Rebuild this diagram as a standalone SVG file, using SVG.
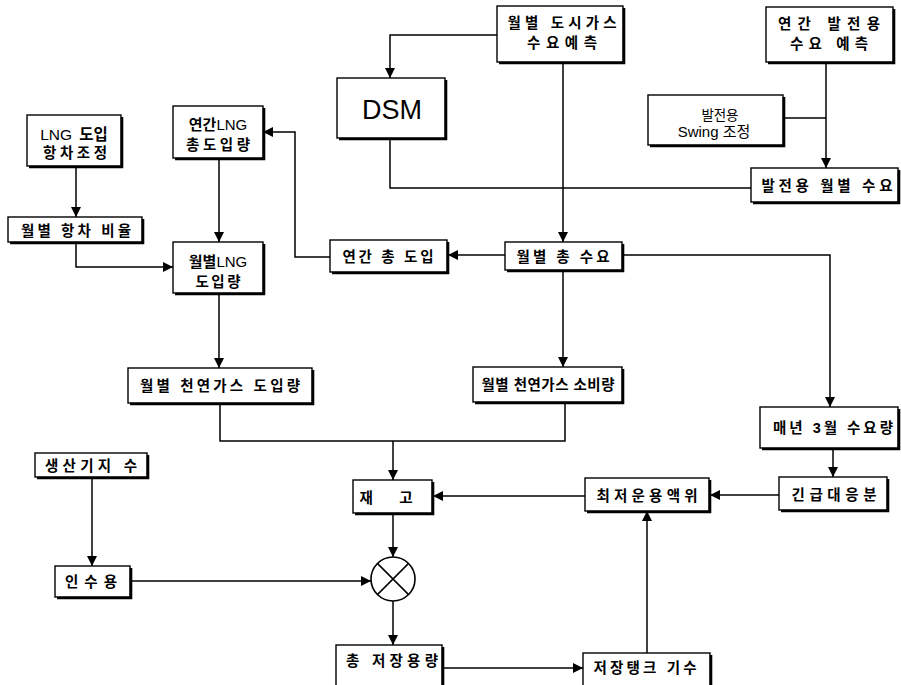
<svg xmlns="http://www.w3.org/2000/svg" width="901" height="685" viewBox="0 0 901 685">
<style>
.box{fill:#fff;stroke:#000;stroke-width:1.4}
.sh{fill:none;stroke:#000;stroke-width:2.6}
.t{font-family:"Liberation Sans","Noto Sans CJK KR",sans-serif;font-size:14.5px;font-weight:bold;text-anchor:middle;fill:#000}
.l{font-weight:normal}
.c{fill:none;stroke:#000;stroke-width:1.5}
.a{marker-end:url(#ah)}
</style>
<defs>
<marker id="ah" viewBox="0 0 10 10" refX="10" refY="5" markerWidth="10" markerHeight="10" markerUnits="userSpaceOnUse" orient="auto">
<path d="M0,0 L10,5 L0,10 z" fill="#000"/>
</marker>
</defs>
<rect width="901" height="685" fill="#fff"/>
<g id="connectors">
<path class="c a" d="M497,35 H390 V78"/>
<path class="c a" d="M563,62 V242"/>
<path class="c a" d="M826,62 V168"/>
<path class="c" d="M783,118 H826"/>
<path class="c" d="M390,139 V188 H751"/>
<path class="c a" d="M76,167 V217"/>
<path class="c a" d="M76,243 V267 H173"/>
<path class="c a" d="M219,158 V242"/>
<path class="c a" d="M330,257 H295 V132 H263"/>
<path class="c a" d="M505,255 H448"/>
<path class="c a" d="M622,255 H830 V407"/>
<path class="c a" d="M563,270 V367"/>
<path class="c a" d="M219,293 V368"/>
<path class="c" d="M220,403 V441 H565 V402"/>
<path class="c a" d="M393,441 V480"/>
<path class="c a" d="M833,448 V477"/>
<path class="c a" d="M779,495 H710"/>
<path class="c a" d="M585,496 H433"/>
<path class="c a" d="M393,513 V557"/>
<path class="c a" d="M92,477 V566"/>
<path class="c a" d="M130,581 H371"/>
<path class="c a" d="M393,601 V645"/>
<path class="c a" d="M443,668 H583"/>
<path class="c a" d="M647,653 V511"/>
</g>
<g id="n_lng_adjust"><rect class="box" x="27" y="115" width="94" height="51"/><path class="sh" d="M122,117 V167 H29"/><text class="t" x="74" y="140" style="font-size:15.5px;word-spacing:3px"><tspan class="l">LNG</tspan> 도입</text><text class="t" x="75" y="158" textLength="64">항차조정</text></g>
<g id="n_ratio"><rect class="box" x="8" y="217" width="134" height="25"/><path class="sh" d="M143,219 V243 H10"/><text class="t" x="76" y="236" textLength="110">월별 항차 비율</text></g>
<g id="n_annual_lng"><rect class="box" x="173" y="106" width="90" height="52"/><path class="sh" d="M264,108 V159 H175"/><text class="t" x="218" y="130" style="font-size:15px">연간<tspan class="l">LNG</tspan></text><text class="t" x="218" y="150" textLength="64">총도입량</text></g>
<g id="n_monthly_lng"><rect class="box" x="173" y="242" width="90" height="51"/><path class="sh" d="M264,244 V294 H175"/><text class="t" x="218" y="267" style="font-size:15px">월별<tspan class="l">LNG</tspan></text><text class="t" x="218" y="287" textLength="45">도입량</text></g>
<g id="n_annual_import"><rect class="box" x="330" y="240" width="117" height="32"/><path class="sh" d="M448,242 V273 H332"/><text class="t" x="388" y="262" textLength="91">연간 총 도입</text></g>
<g id="n_dsm"><rect class="box" x="337" y="78" width="108" height="60"/><path class="sh" d="M446,80 V139 H339"/><text x="392" y="119" style="font-family:'Liberation Sans',sans-serif;font-size:27px;text-anchor:middle">DSM</text></g>
<g id="n_city_gas"><rect class="box" x="497" y="6" width="126" height="56"/><path class="sh" d="M624,8 V63 H499"/><text class="t" x="562" y="28" textLength="109">월별 도시가스</text><text class="t" x="562" y="48" textLength="70">수요예측</text></g>
<g id="n_power_annual"><rect class="box" x="766" y="7" width="127" height="55"/><path class="sh" d="M894,9 V63 H768"/><text class="t" x="829" y="29" textLength="102">연간 발전용</text><text class="t" x="829" y="49" textLength="78">수요 예측</text></g>
<g id="n_swing"><rect class="box" x="648" y="95" width="135" height="50"/><path class="sh" d="M784,97 V146 H650"/><text class="t l" x="720" y="120" style="font-size:13.5px" textLength="37">발전용</text><text class="t l" x="714" y="137" style="font-size:15px">Swing 조정</text></g>
<g id="n_power_monthly"><rect class="box" x="751" y="168" width="147" height="34"/><path class="sh" d="M899,170 V203 H753"/><text class="t" x="827" y="191" textLength="131">발전용 월별 수요</text></g>
<g id="n_total_demand"><rect class="box" x="505" y="242" width="117" height="28"/><path class="sh" d="M623,244 V271 H507"/><text class="t" x="563" y="262" textLength="93">월별 총 수요</text></g>
<g id="n_ng_import"><rect class="box" x="128" y="368" width="184" height="35"/><path class="sh" d="M313,370 V404 H130"/><text class="t" x="220" y="391" textLength="160">월별 천연가스 도입량</text></g>
<g id="n_ng_consume"><rect class="box" x="473" y="367" width="149" height="35"/><path class="sh" d="M623,369 V403 H475"/><text class="t" x="548" y="390" textLength="133">월별 천연가스 소비량</text></g>
<g id="n_march"><rect class="box" x="760" y="407" width="138" height="41"/><path class="sh" d="M899,409 V449 H762"/><text class="t" x="833" y="433" textLength="120">매년 3월 수요량</text></g>
<g id="n_prod"><rect class="box" x="35" y="453" width="112" height="24"/><path class="sh" d="M148,455 V478 H37"/><text class="t" x="91" y="471" textLength="92">생산기지 수</text></g>
<g id="n_receive"><rect class="box" x="55" y="566" width="75" height="31"/><path class="sh" d="M131,568 V598 H57"/><text class="t" x="91" y="587" textLength="52">인수용</text></g>
<g id="n_stock"><rect class="box" x="353" y="480" width="79" height="33"/><path class="sh" d="M433,482 V514 H355"/><text class="t" x="386" y="503" textLength="53">재 고</text></g>
<g id="n_min_level"><rect class="box" x="585" y="478" width="124" height="33"/><path class="sh" d="M710,480 V512 H587"/><text class="t" x="647" y="501" textLength="101">최저운용액위</text></g>
<g id="n_emergency"><rect class="box" x="779" y="477" width="108" height="33"/><path class="sh" d="M888,479 V511 H781"/><text class="t" x="834" y="500" textLength="85">긴급대응분</text></g>
<g id="n_mult"><circle cx="393" cy="579" r="22" fill="#fff" stroke="#000" stroke-width="1.6"/><path d="M377.4,563.4 L408.6,594.6 M408.6,563.4 L377.4,594.6" stroke="#000" stroke-width="1.5"/></g>
<g id="n_total_storage"><rect class="box" x="336" y="645" width="106" height="50"/><path class="sh" d="M443,647 V697"/><text class="t" x="392" y="666" textLength="92">총 저장용량</text></g>
<g id="n_tank"><rect class="box" x="583" y="653" width="127" height="45"/><path class="sh" d="M711,655 V699"/><text class="t" x="645" y="673" textLength="103">저장탱크 기수</text></g>
</svg>
